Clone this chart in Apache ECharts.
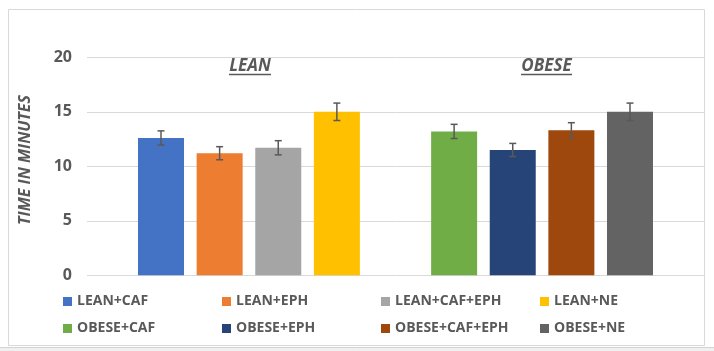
<!DOCTYPE html>
<html><head><meta charset="utf-8">
<script src="https://cdn.jsdelivr.net/npm/echarts@6/dist/echarts.min.js"></script>
<style>html,body{margin:0;padding:0;background:#fff;}#c{width:714px;height:351px;}</style>
</head><body><div id="c"></div>
<script>
const categories = ['LEAN+CAF','LEAN+EPH','LEAN+CAF+EPH','LEAN+NE','','OBESE+CAF','OBESE+EPH','OBESE+CAF+EPH','OBESE+NE'];
const seriesNames = ['LEAN+CAF','LEAN+EPH','LEAN+CAF+EPH','LEAN+NE','OBESE+CAF','OBESE+EPH','OBESE+CAF+EPH','OBESE+NE'];
const meanValues = [12.6, 11.2, 11.7, 15.0, 13.2, 11.5, 13.3, 15.0];
const errorValues = [0.65, 0.6, 0.65, 0.8, 0.65, 0.6, 0.7, 0.8];
const groupLabels = ['LEAN', 'OBESE'];
const yAxisTitle = 'TIME IN MINUTES';
const yMin = 0, yMax = 20, yStep = 5;

const colors = ['#4472C4','#ED7D31','#A5A5A5','#FFC000','#70AD47','#264478','#9E480E','#636363'];
const textColor = '#595959';
const font = '"Open Sans", sans-serif';

const chart = echarts.init(document.getElementById('c'), null, {renderer: 'canvas'});

const barSeries = seriesNames.map((name, i) => ({
  name: name,
  type: 'bar',
  xAxisIndex: 1,
  yAxisIndex: 1,
  barWidth: 46,
  barGap: '-100%',
  itemStyle: {color: colors[i]},
  emphasis: {disabled: true},
  data: categories.map(c => c === name ? meanValues[i] : '-')
}));

const errData = seriesNames.map((name, i) => [categories.indexOf(name), meanValues[i] - errorValues[i], meanValues[i] + errorValues[i]]);

const errSeries = {
  type: 'custom',
  xAxisIndex: 1,
  yAxisIndex: 1,
  z: 5,
  data: errData,
  encode: {x: 0, y: [1, 2]},
  renderItem: function (params, api) {
    const x = api.value(0);
    const pHi = api.coord([x, api.value(2)]);
    const pLo = api.coord([x, api.value(1)]);
    const hw = 3.5;
    const style = {stroke: '#595959', lineWidth: 1.5};
    return {type: 'group', children: [
      {type: 'line', shape: {x1: pHi[0], y1: pHi[1], x2: pLo[0], y2: pLo[1]}, style: style},
      {type: 'line', shape: {x1: pHi[0] - hw, y1: pHi[1], x2: pHi[0] + hw, y2: pHi[1]}, style: style},
      {type: 'line', shape: {x1: pLo[0] - hw, y1: pLo[1], x2: pLo[0] + hw, y2: pLo[1]}, style: style}
    ]};
  }
};

const legendCols = [63, 222, 381, 540];
const legends = legendCols.map((left, k) => ({
  orient: 'vertical',
  left: left,
  top: 294.5,
  padding: 0,
  itemWidth: 9,
  itemHeight: 9,
  itemGap: 13,
  icon: 'rect',
  selectedMode: false,
  data: [seriesNames[k], seriesNames[k + 4]],
  textStyle: {color: textColor, fontFamily: font, fontWeight: 'bold', fontSize: 14, lineHeight: 14}
}));

const groupCenters = [250, 546.5];
const underline = [[229, 271], [521, 572]];
const graphics = [
  {type: 'rect', z: -10, shape: {x: 8.5, y: 9.5, width: 696, height: 336}, style: {fill: 'none', stroke: '#d9d9d9', lineWidth: 1}},
  {type: 'rect', z: -10, shape: {x: 0, y: 347, width: 714, height: 4}, style: {fill: '#f0f0f0'}},
  {type: 'line', z: -10, shape: {x1: 0, y1: 347.5, x2: 714, y2: 347.5}, style: {stroke: '#d4d4d4', lineWidth: 1}},
  {type: 'text', x: 25, y: 160, rotation: Math.PI / 2,
   style: {text: yAxisTitle, fill: textColor, font: 'italic bold 16px ' + font, textAlign: 'center', textVerticalAlign: 'middle'}}
];
groupLabels.forEach((g, k) => {
  graphics.push({type: 'text', x: groupCenters[k], y: 66,
    style: {text: g, fill: textColor, font: 'italic bold 17px ' + font, textAlign: 'center', textVerticalAlign: 'middle'}});
  graphics.push({type: 'line', shape: {x1: underline[k][0], y1: 74.5, x2: underline[k][1], y2: 74.5}, style: {stroke: textColor, lineWidth: 1.5}});
});

chart.setOption({
  animation: false,
  backgroundColor: '#fff',
  grid: [
    {left: 87, right: 10, top: 57.3, bottom: 75.7, outerBoundsMode: 'none'},
    {left: 131.7, right: 54.7, top: 57.3, bottom: 75.7, outerBoundsMode: 'none'}
  ],
  xAxis: [
    {gridIndex: 0, type: 'value', show: false},
    {gridIndex: 1, type: 'category', data: categories, show: false}
  ],
  yAxis: [
    {gridIndex: 0, type: 'value', min: yMin, max: yMax, interval: yStep,
     axisLine: {show: false}, axisTick: {show: false},
     axisLabel: {color: textColor, fontFamily: font, fontWeight: 'bold', fontSize: 16, margin: 15},
     splitLine: {lineStyle: {color: '#d9d9d9', width: 1}}},
    {gridIndex: 1, type: 'value', min: yMin, max: yMax, show: false, splitLine: {show: false}}
  ],
  legend: legends,
  graphic: graphics,
  series: barSeries.concat([errSeries])
});
</script></body></html>
